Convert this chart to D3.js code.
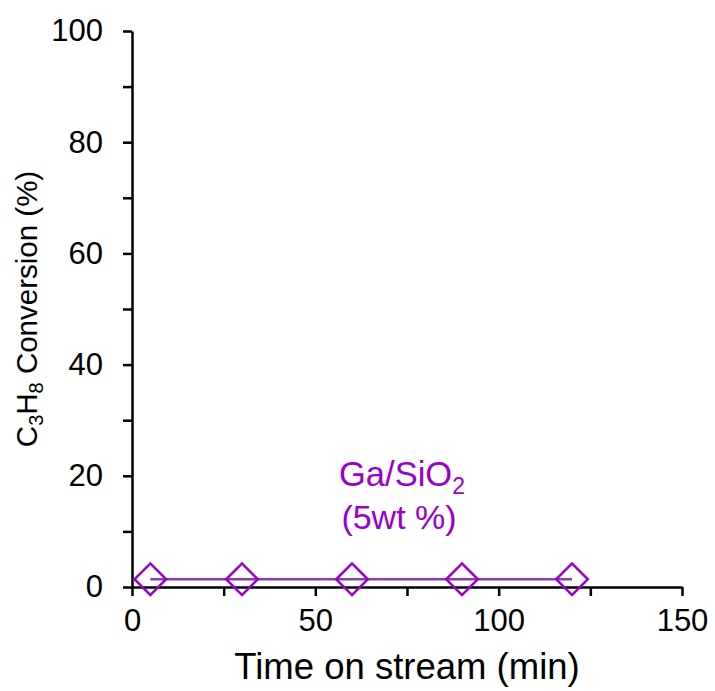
<!DOCTYPE html>
<html>
<head>
<meta charset="utf-8">
<script src="https://cdn.jsdelivr.net/npm/d3@7"></script>
<style>
  body { margin: 0; background: #fff; }
  text { font-family: Arial, 'Liberation Sans', sans-serif; }
</style>
</head>
<body>
<div id="chart"></div>
<script>
(function() {
const width = 715,
      height = 691

// data
const times = [5, 30, 60, 90, 120]
const conversion = [1.4, 1.4, 1.4, 1.4, 1.4]
const xTicks = [0, 50, 100, 150]
const xMinor = [25, 75, 125]
const yTicks = [0, 20, 40, 60, 80, 100]
const yMinor = [10, 30, 50, 70, 90]
const seriesLabel = ['Ga/SiO', '(5wt %)']

const margin = {left: 132, right: 33, top: 31, bottom: 104}

const svg = d3.select('#chart')
  .append('svg')
  .attr('width', width)
  .attr('height', height)

const x = d3.scaleLinear()
  .domain([0, 150])
  .range([margin.left, width - margin.right])

const y = d3.scaleLinear()
  .domain([0, 100])
  .range([height - margin.bottom, margin.top])

// x axis
const xAxis = svg.append('g')
  .attr('transform', 'translate(0,' + y(0) + ')')
  .call(d3.axisBottom(x).tickValues(xTicks).tickSize(9).tickSizeOuter(0).tickPadding(13))
xAxis.append('g')
  .call(d3.axisBottom(x).tickValues(xMinor).tickSize(9).tickSizeOuter(0).tickFormat(''))
  .select('.domain').remove()

// y axis
const yAxis = svg.append('g')
  .attr('transform', 'translate(' + x(0) + ',0)')
  .call(d3.axisLeft(y).tickValues(yTicks).tickSize(9).tickSizeOuter(0).tickPadding(20))
yAxis.append('g')
  .call(d3.axisLeft(y).tickValues(yMinor).tickSize(9).tickSizeOuter(0).tickFormat(''))
  .select('.domain').remove()

svg.selectAll('.domain, .tick line')
  .attr('stroke', '#000')
  .attr('stroke-width', 2.5)
svg.selectAll('.tick text')
  .attr('fill', '#000')
  .style('font-size', '31px')

// axis titles
svg.append('text')
  .attr('x', (x(0) + x(150)) / 2)
  .attr('y', 679)
  .attr('text-anchor', 'middle')
  .style('font-size', '36.5px')
  .text('Time on stream (min)')

const yTitle = svg.append('text')
  .attr('transform', 'translate(37,' + (y(0) + y(100)) / 2 + ') rotate(-90)')
  .attr('text-anchor', 'middle')
  .style('font-size', '29.5px')
yTitle.append('tspan').text('C')
yTitle.append('tspan').attr('dy', 6).style('font-size', '20px').text('3')
yTitle.append('tspan').attr('dy', -6).text('H')
yTitle.append('tspan').attr('dy', 6).style('font-size', '20px').text('8')
yTitle.append('tspan').attr('dy', -6).text(' Conversion (%)')

// series
const purple = '#9900cc'
const points = times.map(function(t, i) { return {t: t, v: conversion[i]} })

svg.append('path')
  .datum(points)
  .attr('fill', 'none')
  .attr('stroke', '#8a3cb8')
  .attr('stroke-width', 2.5)
  .attr('d', d3.line()
    .x(function(d) { return x(d.t) })
    .y(function(d) { return y(d.v) }))

svg.selectAll('.marker')
  .data(points)
  .enter().append('path')
  .attr('class', 'marker')
  .attr('d', d3.symbol().type(d3.symbolSquare).size(500))
  .attr('transform', function(d) {
    return 'translate(' + x(d.t) + ',' + y(d.v) + ') rotate(45)'
  })
  .attr('fill', 'none')
  .attr('stroke', purple)
  .attr('stroke-width', 2.5)

// series label
const lab = svg.append('text')
  .attr('x', 402)
  .attr('y', 486)
  .attr('text-anchor', 'middle')
  .attr('fill', purple)
  .style('font-size', '34.5px')
lab.append('tspan').text(seriesLabel[0])
lab.append('tspan').attr('dy', 8).style('font-size', '23px').text('2')
svg.append('text')
  .attr('x', 399)
  .attr('y', 529)
  .attr('text-anchor', 'middle')
  .attr('fill', purple)
  .style('font-size', '34px')
  .text(seriesLabel[1])

})()
</script>
</body>
</html>
